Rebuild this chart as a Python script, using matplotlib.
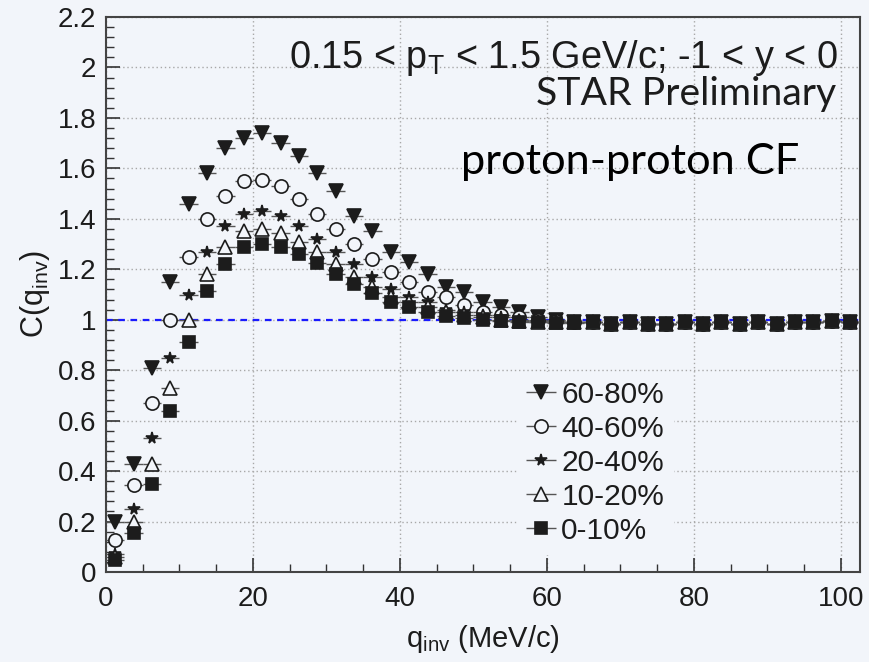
import numpy as np
import matplotlib
matplotlib.use("Agg")
from matplotlib import pyplot as plt
from matplotlib.ticker import MultipleLocator

# bin centres, 2.5 MeV/c bins
q_inv = np.arange(1.25, 102.5, 2.5)

tail = [0.99, 0.985, 0.99, 0.985, 0.985, 0.99, 0.985, 0.99, 0.985, 0.99,
        0.985, 0.99, 0.99, 0.995, 0.99]

cf_60_80 = [0.20, 0.43, 0.81, 1.15, 1.46, 1.58, 1.68, 1.72, 1.74, 1.70,
            1.65, 1.58, 1.51, 1.41, 1.35, 1.27, 1.23, 1.18, 1.13, 1.11,
            1.07, 1.05, 1.03, 1.01, 1.00, 0.99] + tail
cf_40_60 = [0.127, 0.345, 0.67, 1.00, 1.25, 1.40, 1.49, 1.55, 1.555, 1.53,
            1.48, 1.42, 1.36, 1.30, 1.24, 1.19, 1.15, 1.11, 1.09, 1.06,
            1.03, 1.02, 1.01, 1.00, 0.995, 0.99] + tail
cf_20_40 = [0.07, 0.25, 0.53, 0.85, 1.10, 1.27, 1.37, 1.42, 1.43, 1.41,
            1.37, 1.32, 1.27, 1.22, 1.17, 1.12, 1.09, 1.07, 1.04, 1.03,
            1.02, 1.01, 1.00, 0.995, 0.99, 0.99] + tail
cf_10_20 = [0.06, 0.20, 0.43, 0.73, 1.00, 1.18, 1.29, 1.35, 1.36, 1.345,
            1.31, 1.27, 1.22, 1.17, 1.13, 1.09, 1.07, 1.05, 1.03, 1.02,
            1.01, 1.00, 0.995, 0.99, 0.99, 0.99] + tail
cf_0_10 = [0.048, 0.155, 0.35, 0.64, 0.91, 1.115, 1.22, 1.29, 1.30, 1.29,
           1.26, 1.225, 1.18, 1.14, 1.105, 1.07, 1.05, 1.03, 1.016, 1.008,
           1.00, 0.995, 0.99, 0.99, 0.988, 0.988] + tail

labels = ["60-80%", "40-60%", "20-40%", "10-20%", "0-10%"]
series = [cf_60_80, cf_40_60, cf_20_40, cf_10_20, cf_0_10]

bg = "#f2f5fa"
ink = "#1c1c1c"

plt.rcParams["font.family"] = ["Liberation Sans", "DejaVu Sans"]
plt.rcParams["mathtext.default"] = "regular"

fig = plt.figure(figsize=(8.69, 6.62), dpi=100, facecolor=bg)
ax = fig.add_axes([106 / 869, 1 - 572 / 662, 754 / 869, 555 / 662])
ax.set_facecolor(bg)

styles = [
    dict(marker="v", ms=10, mfc=ink),
    dict(marker="o", ms=9.5, mfc=bg),
    dict(marker="*", ms=8.5, mfc=ink),
    dict(marker="^", ms=10, mfc=bg),
    dict(marker="s", ms=9, mfc=ink),
]

handles = []
for vals, lab, st in zip(series, labels, styles):
    h = ax.errorbar(q_inv, vals, xerr=1.25, fmt=st["marker"], ms=st["ms"],
                    mfc=st["mfc"], mec=ink, mew=1.2, ecolor="#555555",
                    elinewidth=1.0, capsize=0, label=lab, zorder=3)
    handles.append(h)

ax.axhline(1.0, color="#1a1aff", ls=(0, (3, 2.5)), lw=1.6, zorder=2)

ax.set_xlim(0, 102.6)
ax.set_ylim(0, 2.2)
ax.xaxis.set_minor_locator(MultipleLocator(5))
ax.yaxis.set_minor_locator(MultipleLocator(0.04))
ax.set_xticks(np.arange(0, 101, 20))
ax.set_xticklabels(["0", "20", "40", "60", "80", "100"])
ax.set_yticks(np.arange(0, 2.21, 0.2))
ax.set_yticklabels(["0", "0.2", "0.4", "0.6", "0.8", "1", "1.2", "1.4",
                    "1.6", "1.8", "2", "2.2"])
ax.tick_params(which="both", direction="in", top=False, right=False,
               colors="#333333", labelcolor=ink, labelsize=20)
ax.tick_params(which="major", length=10, width=1.2)
ax.tick_params(which="minor", length=6, width=1.0)
ax.tick_params(axis="x", pad=10)
ax.tick_params(axis="y", pad=7)
ax.grid(True, which="major", color="#a8a8a8", ls=(0, (1, 2)), lw=1.0, zorder=1)
ax.set_axisbelow(True)
for sp in ax.spines.values():
    sp.set_color("#444444")
    sp.set_linewidth(1.5)

ax.set_xlabel("q$_{inv}$ (MeV/c)", fontsize=21, color=ink, labelpad=8)
ax.set_ylabel("C(q$_{inv}$)", fontsize=22, color=ink, labelpad=4)

ax.text(0.971, 0.926, "0.15 < p$_{T}$ < 1.5 GeV/c; -1 < y < 0",
        transform=ax.transAxes, ha="right", va="center", fontsize=27.3,
        color=ink)
ax.text(0.968, 0.861, "STAR Preliminary", transform=ax.transAxes,
        ha="right", va="center", fontsize=28.2, color=ink,
        family=["Lato", "DejaVu Sans"])
ax.text(0.920, 0.739, "proton-proton CF", transform=ax.transAxes,
        ha="right", va="center", fontsize=31.2, color="black",
        family=["Lato", "DejaVu Sans"])

leg = ax.legend(handles=handles, loc="lower left",
                bbox_to_anchor=(0.525, 0.006), fontsize=21.5, frameon=True,
                facecolor=bg, edgecolor=bg, framealpha=1.0, fancybox=False,
                handlelength=1.04, handletextpad=0.15, labelspacing=0.2,
                borderpad=0.3)
for t in leg.get_texts():
    t.set_color(ink)

fig.savefig("out.png", dpi=100, facecolor=bg)
